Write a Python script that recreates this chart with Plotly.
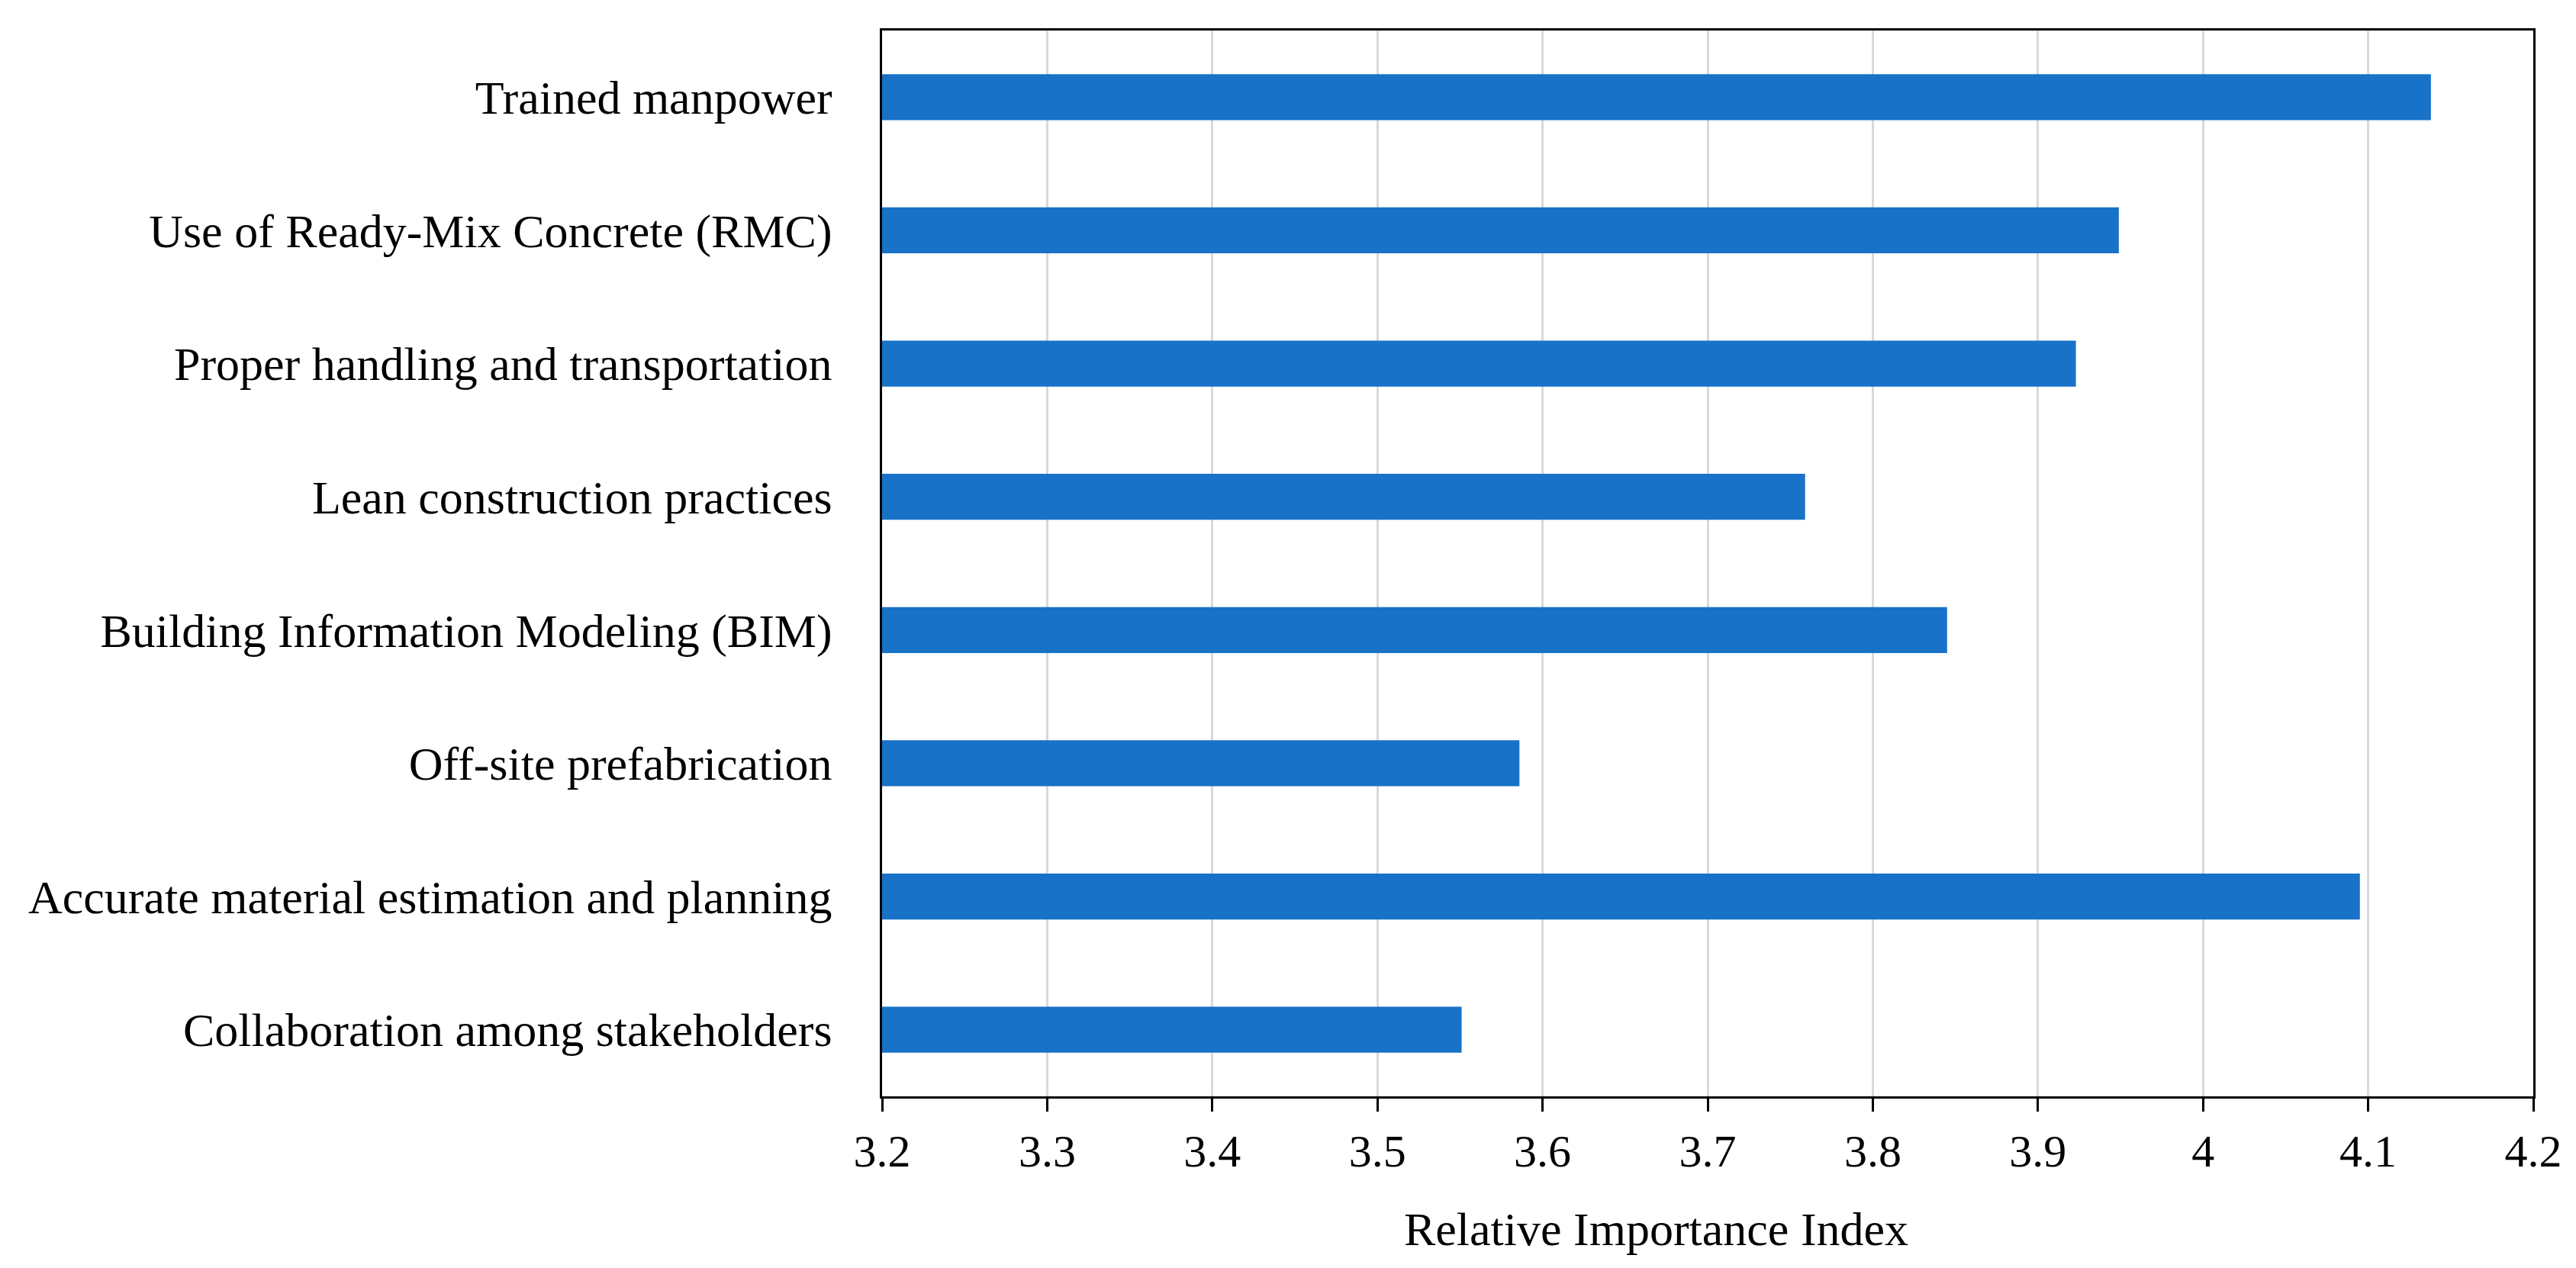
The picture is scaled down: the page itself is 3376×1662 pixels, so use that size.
import plotly.graph_objects as go

categories = [
    "Trained manpower",
    "Use of Ready-Mix Concrete (RMC)",
    "Proper handling and transportation",
    "Lean construction practices",
    "Building Information Modeling (BIM)",
    "Off-site prefabrication",
    "Accurate material estimation and planning",
    "Collaboration among stakeholders",
]
rii_values = [4.138, 3.949, 3.923, 3.759, 3.845, 3.586, 4.095, 3.551]
x_tick_values = [3.2, 3.3, 3.4, 3.5, 3.6, 3.7, 3.8, 3.9, 4.0, 4.1, 4.2]
x_tick_labels = ["3.2", "3.3", "3.4", "3.5", "3.6", "3.7", "3.8", "3.9", "4", "4.1", "4.2"]
x_title = "Relative Importance Index"

FONT = "Liberation Serif, Times New Roman, serif"

fig = go.Figure()
fig.add_trace(go.Bar(
    x=rii_values,
    y=categories,
    orientation="h",
    marker=dict(color="#1772C8", line=dict(width=0)),
    showlegend=False,
))

fig.update_layout(
    width=3376,
    height=1662,
    margin=dict(l=1148, r=64, t=32, b=233),
    paper_bgcolor="white",
    plot_bgcolor="white",
    bargap=0.655,
    font=dict(family=FONT, size=62, color="black"),
)

fig.update_xaxes(
    range=[3.2, 4.2],
    tickmode="array",
    tickvals=x_tick_values,
    ticktext=x_tick_labels,
    showgrid=True,
    gridcolor="#D9D9D9",
    gridwidth=3,
    showline=True,
    linecolor="black",
    linewidth=3,
    mirror=True,
    ticks="outside",
    ticklen=17,
    tickwidth=3,
    tickcolor="black",
    tickfont=dict(family=FONT, size=60, color="black"),
    ticklabelstandoff=0,
    zeroline=False,
)

fig.update_yaxes(
    autorange="reversed",
    showgrid=False,
    showline=True,
    linecolor="black",
    linewidth=3,
    mirror=True,
    ticks="",
    tickfont=dict(family=FONT, size=62, color="black"),
    ticklabelstandoff=50,
)

fig.add_annotation(
    text=x_title,
    xref="paper",
    yref="paper",
    x=0.469,
    y=-0.1245,
    xanchor="center",
    yanchor="middle",
    showarrow=False,
    font=dict(family=FONT, size=62, color="black"),
)

fig.write_html("out.html")
